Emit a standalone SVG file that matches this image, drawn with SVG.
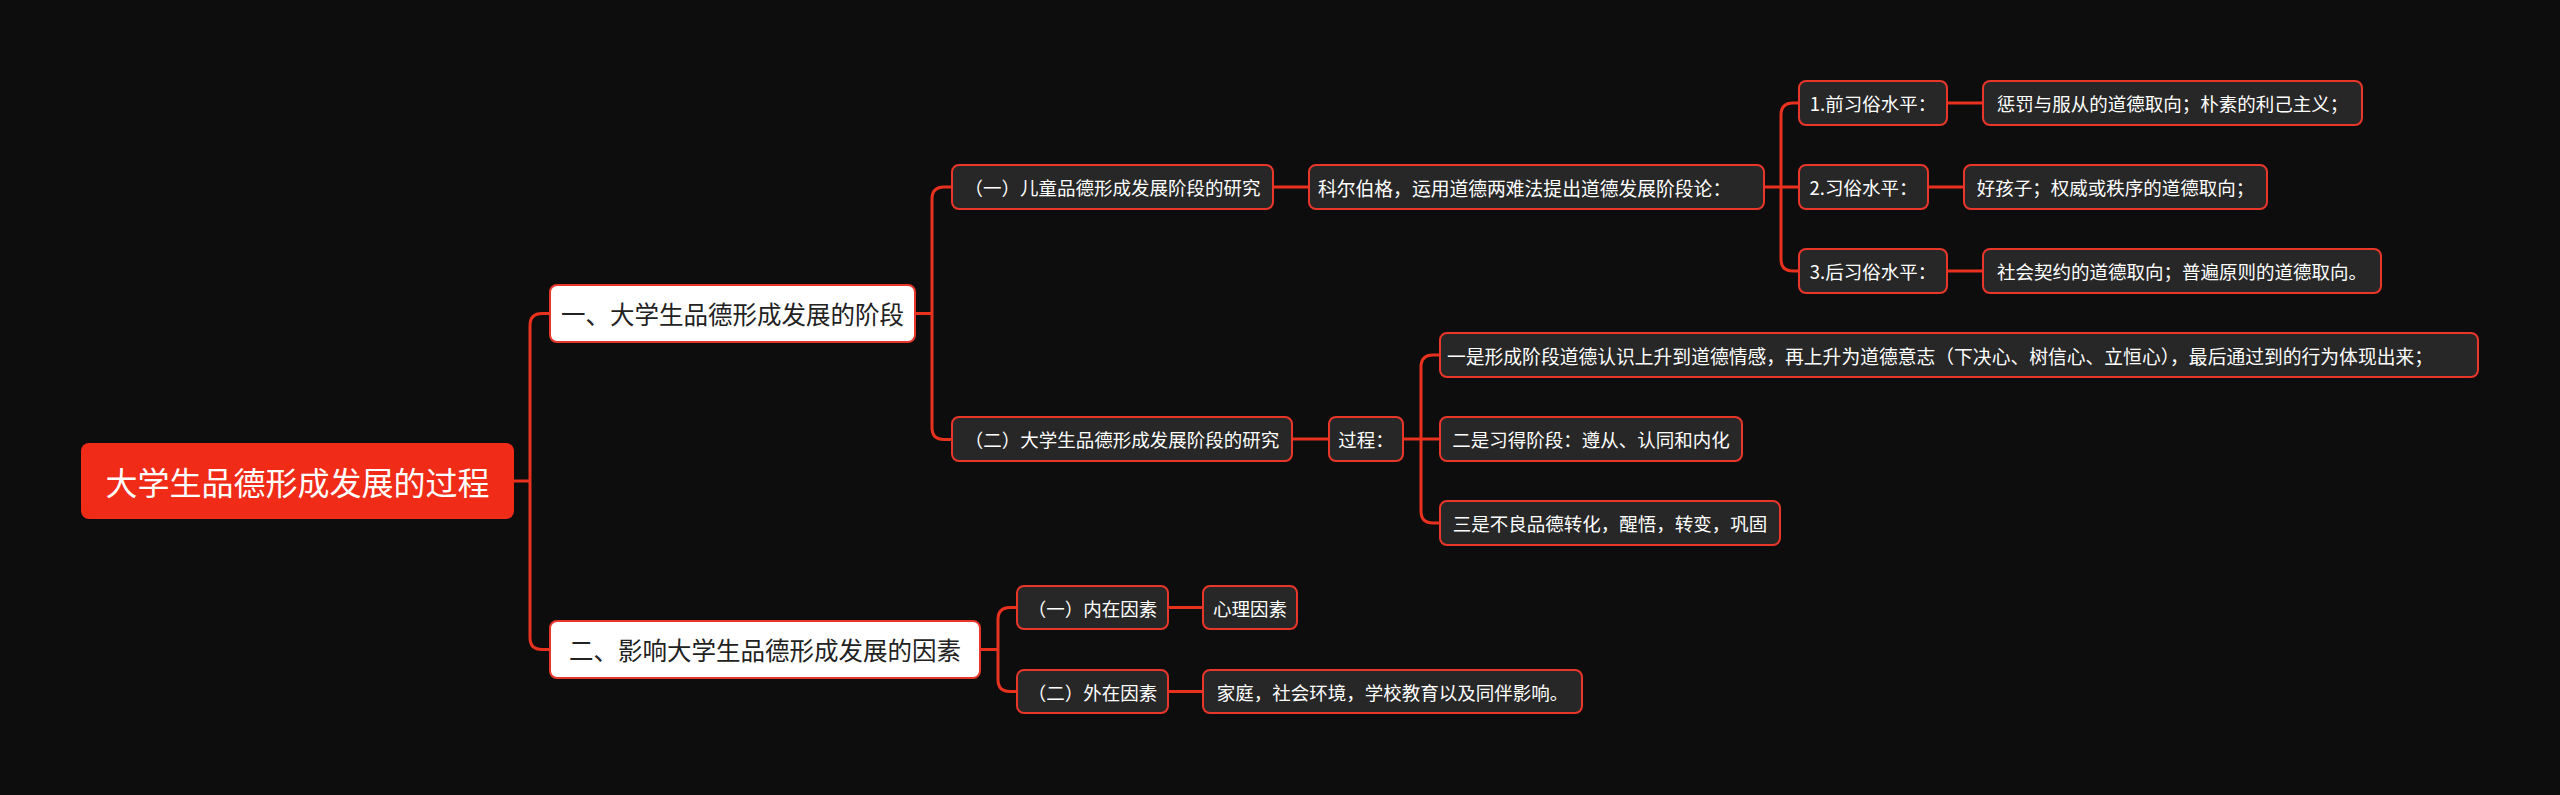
<svg xmlns="http://www.w3.org/2000/svg" width="2560" height="795" viewBox="0 0 2560 795">
<style>
.bg{fill:#0d0d0d}
.n rect{fill:#272727;stroke:#e8372a;stroke-width:2}
.n text{fill:#ffffff;font-family:"Noto Sans CJK SC","Noto Sans",sans-serif;font-size:18.5px;text-anchor:middle;dominant-baseline:central}
.n text.s{text-anchor:start;font-size:18.8px}
.l1 rect{fill:#ffffff;stroke:#e8372a;stroke-width:2}
.l1 text{fill:#222222;font-family:"Noto Sans CJK SC","Noto Sans",sans-serif;font-size:24.5px;text-anchor:middle;dominant-baseline:central}
.root rect{fill:#f02b18;stroke:none}
.root text{fill:#ffffff;font-family:"Noto Sans CJK SC","Noto Sans",sans-serif;font-size:32px;text-anchor:middle;dominant-baseline:central}
.c path{fill:none;stroke:#e8321e;stroke-width:3}
</style>
<rect class="bg" x="0" y="0" width="2560" height="795"/>
<g class="c" id="connectors">
<path d="M514,481 H530"/>
<path d="M550,313.5 H542 Q530,313.5 530,325.5 V637.5 Q530,649.5 542,649.5 H550"/>
<path d="M915,313.5 H932"/>
<path d="M952,187 H944 Q932,187 932,199 V427.5 Q932,439.5 944,439.5 H952"/>
<path d="M980,649.5 H998"/>
<path d="M1017,607.5 H1010 Q998,607.5 998,619.5 V679.5 Q998,691.5 1010,691.5 H1017"/>
<path d="M1273,187 H1309"/>
<path d="M1764,187 H1799"/>
<path d="M1799,103 H1793 Q1781,103 1781,115 V259 Q1781,271 1793,271 H1799"/>
<path d="M1947,103 H1983"/>
<path d="M1928,187 H1964"/>
<path d="M1947,271 H1983"/>
<path d="M1292,439 H1329"/>
<path d="M1403,439 H1440"/>
<path d="M1440,355 H1433 Q1421,355 1421,367 V511 Q1421,523 1433,523 H1440"/>
<path d="M1168,607.5 H1203"/>
<path d="M1168,691.5 H1203"/>
</g>
<g class="root" id="root"><rect x="81" y="443" width="433" height="76" rx="8"/><text x="297.5" y="481">大学生品德形成发展的过程</text></g>
<g class="l1" id="n1"><rect x="550" y="285" width="365" height="57" rx="7"/><text x="732.5" y="313.5">一、大学生品德形成发展的阶段</text></g>
<g class="l1" id="n2"><rect x="550" y="621" width="430" height="57" rx="7"/><text x="765" y="649.5">二、影响大学生品德形成发展的因素</text></g>
<g class="n" id="n1a"><rect x="952" y="165" width="321" height="44" rx="7"/><text x="1112.5" y="187">（一）儿童品德形成发展阶段的研究</text></g>
<g class="n" id="n1b"><rect x="952" y="417" width="340" height="44" rx="7"/><text x="1122" y="439">（二）大学生品德形成发展阶段的研究</text></g>
<g class="n" id="kohl"><rect x="1309" y="165" width="455" height="44" rx="7"/><text class="s" x="1318" y="187">科尔伯格，运用道德两难法提出道德发展阶段论：</text></g>
<g class="n" id="lv1"><rect x="1799" y="81" width="148" height="44" rx="7"/><text x="1873" y="103">1.前习俗水平：</text></g>
<g class="n" id="lv1d"><rect x="1983" y="81" width="379" height="44" rx="7"/><text x="2172.5" y="103">惩罚与服从的道德取向；朴素的利己主义；</text></g>
<g class="n" id="lv2"><rect x="1799" y="165" width="129" height="44" rx="7"/><text x="1863.5" y="187">2.习俗水平：</text></g>
<g class="n" id="lv2d"><rect x="1964" y="165" width="303" height="44" rx="7"/><text x="2115.5" y="187">好孩子；权威或秩序的道德取向；</text></g>
<g class="n" id="lv3"><rect x="1799" y="249" width="148" height="44" rx="7"/><text x="1873" y="271">3.后习俗水平：</text></g>
<g class="n" id="lv3d"><rect x="1983" y="249" width="398" height="44" rx="7"/><text x="2182" y="271">社会契约的道德取向；普遍原则的道德取向。</text></g>
<g class="n" id="proc"><rect x="1329" y="417" width="74" height="44" rx="7"/><text x="1366" y="439">过程：</text></g>
<g class="n" id="p1"><rect x="1440" y="333" width="1038" height="44" rx="7"/><text class="s" x="1447" y="355">一是形成阶段道德认识上升到道德情感，再上升为道德意志（下决心、树信心、立恒心），最后通过到的行为体现出来；</text></g>
<g class="n" id="p2"><rect x="1440" y="417" width="302" height="44" rx="7"/><text x="1591" y="439">二是习得阶段：遵从、认同和内化</text></g>
<g class="n" id="p3"><rect x="1440" y="501" width="340" height="44" rx="7"/><text x="1610" y="523">三是不良品德转化，醒悟，转变，巩固</text></g>
<g class="n" id="in"><rect x="1017" y="586" width="151" height="43" rx="7"/><text x="1092.5" y="607.5">（一）内在因素</text></g>
<g class="n" id="ind"><rect x="1203" y="586" width="94" height="43" rx="7"/><text x="1250" y="607.5">心理因素</text></g>
<g class="n" id="out"><rect x="1017" y="670" width="151" height="43" rx="7"/><text x="1092.5" y="691.5">（二）外在因素</text></g>
<g class="n" id="outd"><rect x="1203" y="670" width="379" height="43" rx="7"/><text x="1392.5" y="691.5">家庭，社会环境，学校教育以及同伴影响。</text></g>
</svg>
